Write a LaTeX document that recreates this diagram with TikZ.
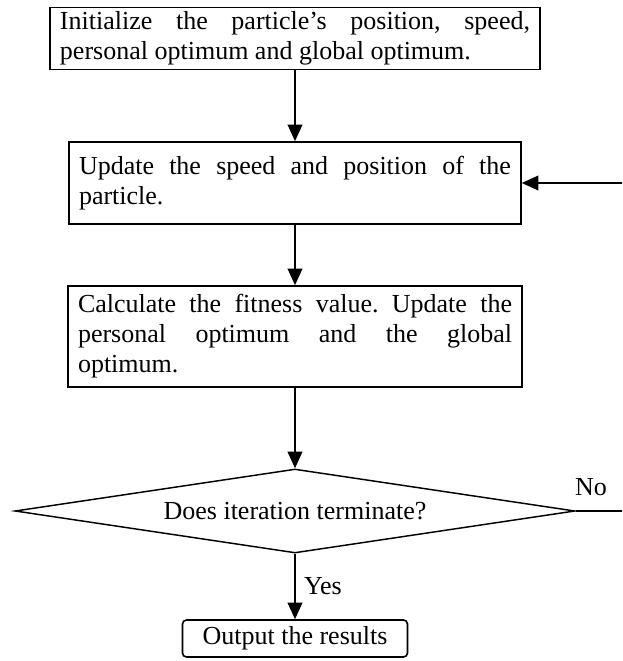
\documentclass[tikz,border=0pt]{standalone}
\usepackage{fontspec}
\setmainfont{Liberation Serif}
\usetikzlibrary{shapes.geometric,arrows.meta}
\frenchspacing

\tikzset{
  flowtext/.style={font=\fontsize{19.5}{22.5}\selectfont},
  stepbox/.style={flowtext, draw, line width=1.2pt, align=justify, inner xsep=7.5pt, inner ysep=3pt},
  decbox/.style={flowtext, draw, line width=1.1pt, diamond, aspect=6.67, inner sep=1pt, minimum width=420pt, minimum height=63pt},
  endbox/.style={flowtext, draw, line width=1.2pt, rounded corners=3pt, minimum width=168.75pt, minimum height=27.75pt, inner sep=2pt},
  flow/.style={line width=1.5pt, -{Triangle[length=12.5pt,width=11pt]}}
}

\begin{document}
\begin{tikzpicture}[x=0.75pt, y=-0.75pt]
      \useasboundingbox (0, 0) rectangle (622, 661);
      \clip (0, 0) rectangle (622, 661);
      % nodes
      \node[stepbox, text width=352.5pt, minimum height=45.75pt] (init) at (295, 38.5)
        {Initialize the particle’s position, speed,\linebreak personal optimum and global optimum.};
      \node[stepbox, text width=324pt, minimum height=61.5pt] (upd) at (295, 183)
        {Update the speed and position of the\linebreak particle.};
      \node[stepbox, text width=325.5pt, minimum height=75.75pt] (fit) at (295, 336.5)
        {Calculate the fitness value. Update the\linebreak personal optimum and the global\linebreak optimum.};
      \node[decbox] (term) at (295, 511) {Does iteration terminate?};
      \node[endbox] (out) at (295, 638.5) {Output the results};
      % lines
      \draw[flow] (init) -- (upd);
      \draw[flow] (upd) -- (fit);
      \draw[flow] (fit) -- (term);
      \draw[flow] (term) -- node[flowtext, right, inner xsep=6pt] (yes) {Yes} (out);
      \draw[flow] (term.east) -- ++(80, 0) |- (upd.east);
      \node[flowtext] (no) at (591, 487) {No};
    \end{tikzpicture}
\end{document}
